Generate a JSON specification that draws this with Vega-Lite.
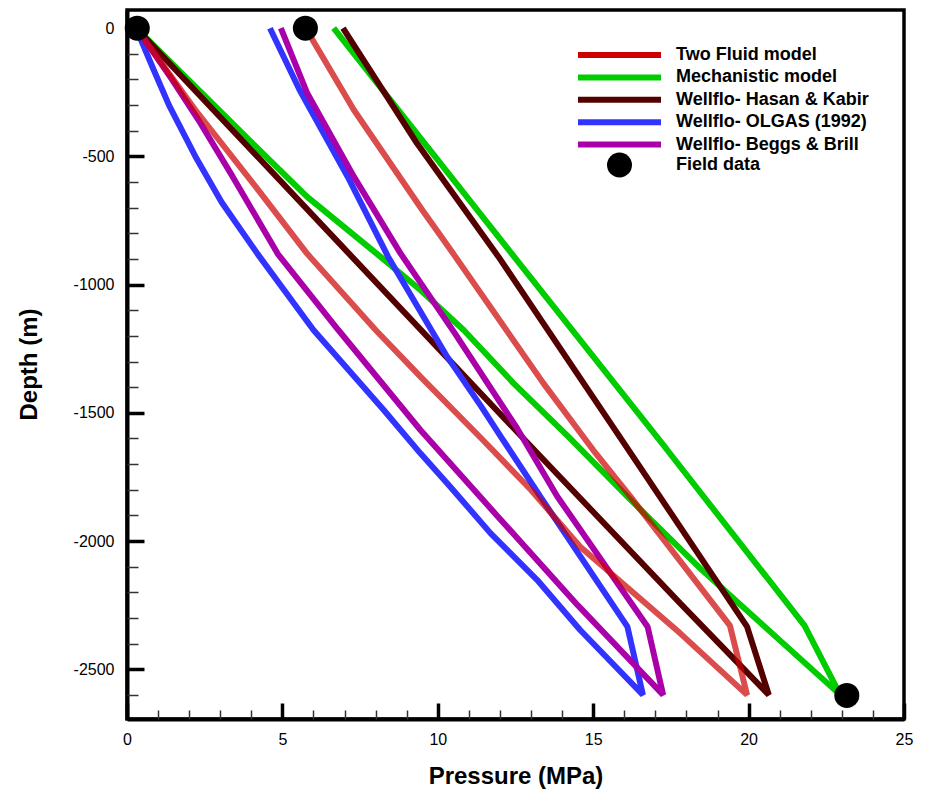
{
 "$schema": "https://vega.github.io/schema/vega-lite/v6.json",
 "width": 777, "height": 709,
 "autosize": {"type": "none"},
 "padding": {"left": 127, "top": 10, "right": 22, "bottom": 72},
 "background": "white",
 "config": {"view": {"stroke": "black", "strokeWidth": 3.5}, "font": "Liberation Sans"},
 "datasets": {
  "lines": [
   {"s":"Mechanistic model","p":6.65,"d":0,"o":1},
   {"s":"Mechanistic model","p":12.2,"d":-852,"o":2},
   {"s":"Mechanistic model","p":17.35,"d":-1640,"o":3},
   {"s":"Mechanistic model","p":21.8,"d":-2330,"o":4},
   {"s":"Mechanistic model","p":22.95,"d":-2600,"o":5},
   {"s":"Mechanistic model","p":18.5,"d":-2113,"o":6},
   {"s":"Mechanistic model","p":16.1,"d":-1827,"o":7},
   {"s":"Mechanistic model","p":14.2,"d":-1593,"o":8},
   {"s":"Mechanistic model","p":12.44,"d":-1385,"o":9},
   {"s":"Mechanistic model","p":10.83,"d":-1177,"o":10},
   {"s":"Mechanistic model","p":9.44,"d":-1021,"o":11},
   {"s":"Mechanistic model","p":8.15,"d":-891,"o":12},
   {"s":"Mechanistic model","p":5.79,"d":-657,"o":13},
   {"s":"Mechanistic model","p":4.05,"d":-450,"o":14},
   {"s":"Mechanistic model","p":0.3,"d":0,"o":15},

   {"s":"Wellflo- Hasan & Kabir","p":6.95,"d":0,"o":1},
   {"s":"Wellflo- Hasan & Kabir","p":9.33,"d":-449,"o":2},
   {"s":"Wellflo- Hasan & Kabir","p":11.95,"d":-891,"o":3},
   {"s":"Wellflo- Hasan & Kabir","p":16.0,"d":-1620,"o":4},
   {"s":"Wellflo- Hasan & Kabir","p":19.95,"d":-2334,"o":5},
   {"s":"Wellflo- Hasan & Kabir","p":20.65,"d":-2600,"o":6},
   {"s":"Wellflo- Hasan & Kabir","p":17.8,"d":-2243,"o":7},
   {"s":"Wellflo- Hasan & Kabir","p":12.8,"d":-1606,"o":8},
   {"s":"Wellflo- Hasan & Kabir","p":7.15,"d":-880,"o":9},
   {"s":"Wellflo- Hasan & Kabir","p":0.3,"d":0,"o":10},

   {"s":"Wellflo- OLGAS (1992)","p":4.6,"d":0,"o":1},
   {"s":"Wellflo- OLGAS (1992)","p":5.55,"d":-240,"o":2},
   {"s":"Wellflo- OLGAS (1992)","p":7.1,"d":-579,"o":3},
   {"s":"Wellflo- OLGAS (1992)","p":8.4,"d":-891,"o":4},
   {"s":"Wellflo- OLGAS (1992)","p":10.3,"d":-1281,"o":5},
   {"s":"Wellflo- OLGAS (1992)","p":11.4,"d":-1476,"o":6},
   {"s":"Wellflo- OLGAS (1992)","p":12.1,"d":-1606,"o":7},
   {"s":"Wellflo- OLGAS (1992)","p":13.3,"d":-1827,"o":8},
   {"s":"Wellflo- OLGAS (1992)","p":16.1,"d":-2334,"o":9},
   {"s":"Wellflo- OLGAS (1992)","p":16.6,"d":-2600,"o":10},
   {"s":"Wellflo- OLGAS (1992)","p":14.58,"d":-2347,"o":11},
   {"s":"Wellflo- OLGAS (1992)","p":13.2,"d":-2152,"o":12},
   {"s":"Wellflo- OLGAS (1992)","p":11.7,"d":-1970,"o":13},
   {"s":"Wellflo- OLGAS (1992)","p":10.4,"d":-1788,"o":14},
   {"s":"Wellflo- OLGAS (1992)","p":9.44,"d":-1658,"o":15},
   {"s":"Wellflo- OLGAS (1992)","p":8.26,"d":-1489,"o":16},
   {"s":"Wellflo- OLGAS (1992)","p":6.0,"d":-1177,"o":17},
   {"s":"Wellflo- OLGAS (1992)","p":4.2,"d":-880,"o":18},
   {"s":"Wellflo- OLGAS (1992)","p":3.05,"d":-680,"o":19},
   {"s":"Wellflo- OLGAS (1992)","p":2.2,"d":-500,"o":20},
   {"s":"Wellflo- OLGAS (1992)","p":1.35,"d":-300,"o":21},
   {"s":"Wellflo- OLGAS (1992)","p":0.85,"d":-160,"o":22},
   {"s":"Wellflo- OLGAS (1992)","p":0.5,"d":-60,"o":23},
   {"s":"Wellflo- OLGAS (1992)","p":0.3,"d":0,"o":24},

   {"s":"Wellflo- Beggs & Brill","p":4.95,"d":0,"o":1},
   {"s":"Wellflo- Beggs & Brill","p":5.8,"d":-254,"o":2},
   {"s":"Wellflo- Beggs & Brill","p":7.3,"d":-579,"o":3},
   {"s":"Wellflo- Beggs & Brill","p":8.8,"d":-878,"o":4},
   {"s":"Wellflo- Beggs & Brill","p":10.55,"d":-1190,"o":5},
   {"s":"Wellflo- Beggs & Brill","p":12.55,"d":-1560,"o":6},
   {"s":"Wellflo- Beggs & Brill","p":13.85,"d":-1827,"o":7},
   {"s":"Wellflo- Beggs & Brill","p":16.75,"d":-2334,"o":8},
   {"s":"Wellflo- Beggs & Brill","p":17.25,"d":-2600,"o":9},
   {"s":"Wellflo- Beggs & Brill","p":14.5,"d":-2250,"o":10},
   {"s":"Wellflo- Beggs & Brill","p":11.9,"d":-1900,"o":11},
   {"s":"Wellflo- Beggs & Brill","p":9.44,"d":-1567,"o":12},
   {"s":"Wellflo- Beggs & Brill","p":6.8,"d":-1177,"o":13},
   {"s":"Wellflo- Beggs & Brill","p":4.85,"d":-880,"o":14},
   {"s":"Wellflo- Beggs & Brill","p":3.4,"d":-579,"o":15},
   {"s":"Wellflo- Beggs & Brill","p":2.3,"d":-358,"o":16},
   {"s":"Wellflo- Beggs & Brill","p":1.45,"d":-200,"o":17},
   {"s":"Wellflo- Beggs & Brill","p":0.65,"d":-60,"o":18},
   {"s":"Wellflo- Beggs & Brill","p":0.3,"d":0,"o":19},

   {"s":"Two Fluid model","p":5.75,"d":0,"o":1},
   {"s":"Two Fluid model","p":7.3,"d":-319,"o":2},
   {"s":"Two Fluid model","p":9.5,"d":-709,"o":3},
   {"s":"Two Fluid model","p":10.5,"d":-880,"o":4},
   {"s":"Two Fluid model","p":13.4,"d":-1385,"o":5},
   {"s":"Two Fluid model","p":15.0,"d":-1645,"o":6},
   {"s":"Two Fluid model","p":16.2,"d":-1827,"o":7},
   {"s":"Two Fluid model","p":19.4,"d":-2330,"o":8},
   {"s":"Two Fluid model","p":19.95,"d":-2600,"o":9},
   {"s":"Two Fluid model","p":17.8,"d":-2360,"o":10},
   {"s":"Two Fluid model","p":14.58,"d":-2022,"o":11},
   {"s":"Two Fluid model","p":13.0,"d":-1801,"o":12},
   {"s":"Two Fluid model","p":11.45,"d":-1606,"o":13},
   {"s":"Two Fluid model","p":9.44,"d":-1359,"o":14},
   {"s":"Two Fluid model","p":8.0,"d":-1177,"o":15},
   {"s":"Two Fluid model","p":5.8,"d":-880,"o":16},
   {"s":"Two Fluid model","p":4.3,"d":-643,"o":17},
   {"s":"Two Fluid model","p":2.2,"d":-319,"o":18},
   {"s":"Two Fluid model","p":0.3,"d":0,"o":19}
  ],
  "field": [
   {"s":"Field data","p":0.33,"d":0},
   {"s":"Field data","p":5.74,"d":0},
   {"s":"Field data","p":23.16,"d":-2602}
  ]
 },
 "layer": [
  {
   "data": {"name": "lines"},
   "mark": {"type": "line", "strokeWidth": 6, "strokeJoin": "bevel", "strokeCap": "butt"},
   "encoding": {
    "x": {"field": "p", "type": "quantitative",
          "scale": {"domain": [0, 25], "nice": false, "zero": false},
          "axis": {"orient": "bottom", "values": [0,5,10,15,20,25], "labelExpr": "'' + datum.value", "grid": false,
                   "tickSize": -16, "tickWidth": 3.5, "tickColor": "black",
                   "domain": true, "domainWidth": 4, "domainColor": "black",
                   "labelPadding": 28, "labelFontSize": 16, "labelFont": "Liberation Sans", "labelColor": "black",
                   "labelFlush": false, "labelOverlap": false,
                   "title": "Pressure (MPa)", "titleFont": "Liberation Sans", "titleFontSize": 24, "titleFontWeight": "bold",
                   "titleColor": "black", "titleY": 64.5, "titleBaseline": "alphabetic"}},
    "y": {"field": "d", "type": "quantitative",
          "scale": {"domain": [-2694, 71], "nice": false, "zero": false},
          "axis": {"orient": "left", "values": [0,-500,-1000,-1500,-2000,-2500], "labelExpr": "'' + datum.value", "grid": false,
                   "tickSize": -17, "tickWidth": 3.5, "tickColor": "black",
                   "domain": true, "domainWidth": 4, "domainColor": "black",
                   "labelPadding": 30, "labelFontSize": 16, "labelFont": "Liberation Sans", "labelColor": "black",
                   "labelFlush": false, "labelOverlap": false,
                   "title": "Depth (m)", "titleFont": "Liberation Sans", "titleFontSize": 24, "titleFontWeight": "bold",
                   "titleColor": "black", "titleAngle": -90, "titleX": -91, "titleY": 354,
                   "titleAlign": "center", "titleBaseline": "alphabetic"}},
    "color": {"field": "s", "type": "nominal",
              "scale": {"domain": ["Two Fluid model","Mechanistic model","Wellflo- Hasan & Kabir","Wellflo- OLGAS (1992)","Wellflo- Beggs & Brill"],
                        "range": ["#cc0000","#00cc00","#550000","#3333ff","#aa00aa"]},
              "legend": {"orient": "none", "legendX": 448, "legendY": 34, "title": null, "padding": 0,
                         "symbolType": "stroke", "symbolSize": 6889, "symbolStrokeWidth": 6, "symbolOpacity": 1,
                         "clipHeight": 22, "rowPadding": 0.4, "labelOffset": 12,
                         "labelFont": "Liberation Sans", "labelFontSize": 18, "labelFontWeight": "bold",
                         "labelColor": "black", "labelLimit": 400, "labelBaseline": "middle"}},
    "order": {"field": "o", "type": "quantitative"},
    "opacity": {"condition": {"test": "datum.s === 'Two Fluid model'", "value": 0.7}, "value": 1}
   }
  },
  {
   "data": {"name": "field"},
   "mark": {"type": "point", "filled": true, "size": 625, "opacity": 1, "color": "#000000"},
   "encoding": {
    "x": {"field": "p", "type": "quantitative",
          "axis": {"orient": "bottom", "values": [1,2,3,4,6,7,8,9,11,12,13,14,16,17,18,19,21,22,23,24],
                   "labels": false, "domain": false, "grid": false, "title": null,
                   "tickSize": -9, "tickWidth": 1.5, "tickColor": "#333333"}},
    "y": {"field": "d", "type": "quantitative",
          "axis": {"orient": "left", "values": [-100,-200,-300,-400,-600,-700,-800,-900,-1100,-1200,-1300,-1400,-1600,-1700,-1800,-1900,-2100,-2200,-2300,-2400,-2600],
                   "labels": false, "domain": false, "grid": false, "title": null,
                   "tickSize": -11, "tickWidth": 1.5, "tickColor": "#333333"}},
    "shape": {"field": "s", "type": "nominal",
              "scale": {"domain": ["Field data"], "range": ["circle"]},
              "legend": {"orient": "none", "legendX": 448, "legendY": 142.5, "title": null, "padding": 0,
                         "symbolSize": 625, "symbolStrokeWidth": 0, "symbolOffset": 32, "labelOffset": 44,
                         "symbolFillColor": "#000000", "symbolOpacity": 1,
                         "labelFont": "Liberation Sans", "labelFontSize": 18, "labelFontWeight": "bold",
                         "labelColor": "black", "labelLimit": 400, "labelBaseline": "middle"}}
   }
  }
 ],
 "resolve": {"axis": {"x": "independent", "y": "independent"}}
}
